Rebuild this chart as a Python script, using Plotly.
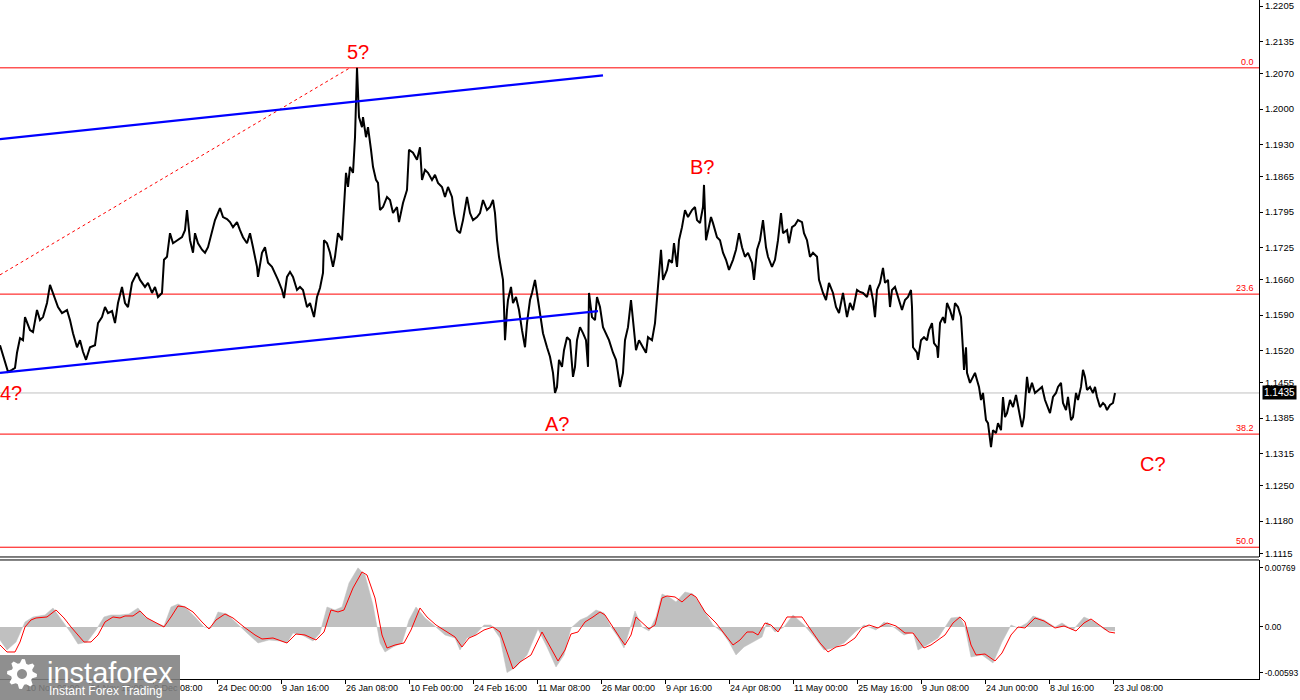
import math
import plotly.graph_objects as go

# time axis is in 4-hour steps (one H4 bar per unit), weekends skipped like MT4
t = [0, 3, 8, 12, 15, 17, 20, 23, 25, 30, 33, 37, 40, 43, 47, 50, 53, 58, 62, 67,
     70, 73, 77, 80, 83, 86, 90, 95, 98, 102, 105, 108, 112, 115, 118, 122, 125, 128, 132, 137,
     140, 145, 148, 152, 155, 158, 162, 164, 167, 170, 173, 177, 182, 185, 187, 190, 193, 195, 198, 202,
     205, 208, 212, 215, 220, 223, 227, 230, 233, 237, 240, 243, 247, 250, 253, 257, 258, 262, 265, 268,
     272, 275, 278, 282, 284, 287, 290, 293, 297, 300, 303, 307, 310, 314, 317, 320, 323, 324, 327, 330,
     333, 335, 338, 342, 344, 346, 348, 350, 353, 355, 357, 358, 359, 362, 363, 366, 368, 371, 373, 376,
     378, 380, 383, 387, 390, 393, 397, 399, 403, 407, 409, 413, 417, 420, 422, 425, 428, 432, 435, 438,
     442, 445, 448, 452, 454, 457, 460, 463, 467, 470, 473, 477, 480, 483, 487, 490, 493, 495, 497, 499,
     501, 503, 504, 505, 507, 508, 511, 513, 516, 519, 522, 525, 527, 530, 532, 535, 538, 541, 543, 547,
     550, 553, 555, 557, 559, 562, 564, 567, 570, 573, 575, 577, 580, 583, 586, 588, 589, 592, 595, 597,
     600, 603, 606, 609, 613, 616, 618, 620, 623, 625, 628, 631, 633, 636, 639, 643, 646, 648, 652, 655,
     657, 659, 661, 663, 667, 669, 672, 674, 677, 679, 682, 685, 688, 692, 695, 697, 700, 703, 704, 706,
     708, 711, 713, 717, 720, 723, 726, 729, 733, 736, 739, 742, 745, 748, 752, 754, 757, 760, 763, 766,
     768, 772, 775, 778, 781, 783, 787, 789, 792, 795, 798, 802, 804, 807, 810, 813, 817, 819, 823, 826,
     829, 833, 836, 839, 843, 847, 850, 853, 857, 860, 863, 867, 870, 873, 875, 877, 880, 883, 885, 888,
     890, 892, 895, 898, 902, 905, 908, 911, 912, 913, 917, 918, 921, 924, 927, 929, 932, 934, 937, 938,
     940, 943, 945, 947, 950, 953, 955, 958, 961, 963, 964, 966, 967, 970, 973, 975, 977, 979, 981, 983,
     986, 988, 991, 993, 996, 998, 1001, 1003, 1005, 1007, 1010, 1013, 1016, 1018, 1022, 1024, 1027, 1029, 1032, 1035,
     1038, 1042, 1045, 1048, 1050, 1053, 1056, 1058, 1061, 1063, 1066, 1068, 1071, 1073, 1076, 1078, 1081, 1083, 1085, 1087,
     1090, 1093, 1095, 1097, 1100, 1103, 1105, 1107, 1110, 1113, 1115]

price = [1.1530, 1.1511, 1.1477, 1.1481, 1.1485, 1.1515, 1.1544, 1.1540, 1.1586, 1.1560, 1.1556, 1.1600, 1.1580, 1.1586, 1.1614, 1.1650, 1.1634, 1.1606, 1.1594, 1.1600,
         1.1580, 1.1554, 1.1526, 1.1540, 1.1517, 1.1501, 1.1526, 1.1530, 1.1574, 1.1586, 1.1606, 1.1594, 1.1598, 1.1574, 1.1614, 1.1646, 1.1614, 1.1606, 1.1654, 1.1674,
         1.1660, 1.1646, 1.1654, 1.1634, 1.1646, 1.1626, 1.1634, 1.1700, 1.1706, 1.1753, 1.1733, 1.1739, 1.1745, 1.1759, 1.1799, 1.1739, 1.1714, 1.1753, 1.1733, 1.1720,
         1.1714, 1.1725, 1.1759, 1.1779, 1.1803, 1.1785, 1.1781, 1.1775, 1.1765, 1.1775, 1.1759, 1.1745, 1.1733, 1.1753, 1.1725, 1.1686, 1.1666, 1.1714, 1.1725, 1.1694,
         1.1686, 1.1674, 1.1660, 1.1640, 1.1624, 1.1666, 1.1676, 1.1666, 1.1640, 1.1646, 1.1640, 1.1606, 1.1614, 1.1586, 1.1626, 1.1644, 1.1674, 1.1739, 1.1733, 1.1714,
         1.1686, 1.1706, 1.1753, 1.1739, 1.1799, 1.1873, 1.1845, 1.1885, 1.1873, 1.1944, 1.2082, 1.2032, 1.1984, 1.1964, 1.1984, 1.1944, 1.1964, 1.1919, 1.1885, 1.1859,
         1.1853, 1.1799, 1.1805, 1.1825, 1.1819, 1.1793, 1.1805, 1.1775, 1.1813, 1.1839, 1.1919, 1.1913, 1.1899, 1.1924, 1.1859, 1.1879, 1.1873, 1.1859, 1.1869, 1.1853,
         1.1845, 1.1825, 1.1845, 1.1825, 1.1793, 1.1759, 1.1753, 1.1779, 1.1825, 1.1793, 1.1779, 1.1785, 1.1793, 1.1819, 1.1799, 1.1805, 1.1819, 1.1793, 1.1739, 1.1706,
         1.1686, 1.1660, 1.1606, 1.1540, 1.1600, 1.1620, 1.1646, 1.1614, 1.1626, 1.1600, 1.1560, 1.1526, 1.1574, 1.1620, 1.1634, 1.1660, 1.1620, 1.1574, 1.1554, 1.1526,
         1.1507, 1.1475, 1.1435, 1.1447, 1.1501, 1.1487, 1.1520, 1.1546, 1.1540, 1.1467, 1.1487, 1.1540, 1.1566, 1.1554, 1.1540, 1.1487, 1.1634, 1.1586, 1.1580, 1.1626,
         1.1606, 1.1566, 1.1554, 1.1540, 1.1515, 1.1501, 1.1475, 1.1447, 1.1475, 1.1540, 1.1566, 1.1620, 1.1580, 1.1520, 1.1540, 1.1526, 1.1515, 1.1546, 1.1540, 1.1574,
         1.1626, 1.1686, 1.1720, 1.1660, 1.1680, 1.1700, 1.1694, 1.1733, 1.1686, 1.1739, 1.1765, 1.1799, 1.1785, 1.1799, 1.1805, 1.1779, 1.1773, 1.1805, 1.1849, 1.1739,
         1.1759, 1.1785, 1.1773, 1.1745, 1.1739, 1.1714, 1.1700, 1.1680, 1.1700, 1.1720, 1.1753, 1.1725, 1.1706, 1.1714, 1.1694, 1.1660, 1.1720, 1.1739, 1.1779, 1.1725,
         1.1706, 1.1686, 1.1700, 1.1739, 1.1793, 1.1753, 1.1759, 1.1733, 1.1765, 1.1769, 1.1779, 1.1775, 1.1753, 1.1739, 1.1706, 1.1714, 1.1706, 1.1660, 1.1634, 1.1620,
         1.1654, 1.1634, 1.1606, 1.1594, 1.1634, 1.1586, 1.1614, 1.1600, 1.1640, 1.1636, 1.1634, 1.1626, 1.1650, 1.1620, 1.1586, 1.1640, 1.1654, 1.1684, 1.1654, 1.1660,
         1.1606, 1.1640, 1.1646, 1.1626, 1.1600, 1.1620, 1.1626, 1.1640, 1.1606, 1.1526, 1.1515, 1.1501, 1.1540, 1.1546, 1.1540, 1.1560, 1.1574, 1.1534, 1.1526, 1.1505,
         1.1574, 1.1586, 1.1574, 1.1614, 1.1600, 1.1580, 1.1614, 1.1606, 1.1586, 1.1520, 1.1481, 1.1526, 1.1475, 1.1455, 1.1467, 1.1475, 1.1461, 1.1447, 1.1421, 1.1435,
         1.1381, 1.1375, 1.1327, 1.1361, 1.1355, 1.1375, 1.1361, 1.1427, 1.1387, 1.1395, 1.1421, 1.1407, 1.1431, 1.1407, 1.1367, 1.1387, 1.1467, 1.1435, 1.1455, 1.1435,
         1.1441, 1.1447, 1.1421, 1.1407, 1.1395, 1.1427, 1.1435, 1.1447, 1.1455, 1.1415, 1.1401, 1.1427, 1.1381, 1.1387, 1.1435, 1.1421, 1.1447, 1.1481, 1.1467, 1.1441,
         1.1447, 1.1435, 1.1447, 1.1427, 1.1407, 1.1415, 1.1411, 1.1401, 1.1411, 1.1415, 1.1435]

# MACD: main (histogram) and signal line
macd_t = [0, 7, 16, 25, 33, 45, 53, 62, 71, 78, 87, 96, 104, 111, 120, 129, 138, 145, 156, 164,
          171, 178, 185, 195, 204, 211, 218, 227, 236, 247, 258, 269, 280, 287, 293, 302, 313, 320, 327, 335,
          342, 349, 358, 365, 373, 380, 385, 393, 402, 409, 416, 425, 436, 445, 455, 460, 467, 475, 484, 491,
          500, 507, 516, 527, 538, 547, 556, 564, 571, 580, 587, 596, 604, 611, 618, 624, 631, 635, 642, 649,
          656, 662, 669, 676, 685, 693, 702, 713, 722, 729, 736, 744, 753, 762, 767, 775, 784, 793, 804, 815,
          824, 833, 844, 855, 864, 876, 884, 895, 904, 913, 918, 927, 938, 945, 951, 960, 965, 971, 982, 993,
          1002, 1011, 1018, 1027, 1033, 1044, 1055, 1062, 1073, 1084, 1095, 1105, 1115]
macd_main = [-0.00169, -0.00299, -0.00195, 0.00065, 0.00130, 0.00156, 0.00247, 0.00091, -0.00078, -0.00221,
             -0.00195, -0.00039, 0.00130, 0.00156, 0.00156, 0.00169, 0.00247, 0.00130, 0.00052, 0.00013,
             0.00260, 0.00299, 0.00260, 0.00130, 0.00000, -0.00013, 0.00195, 0.00169, 0.00052, -0.00078,
             -0.00208, -0.00169, -0.00182, -0.00208, -0.00078, -0.00104, -0.00182, -0.00078, 0.00260, 0.00221,
             0.00260, 0.00572, 0.00769, 0.00676, 0.00286, -0.00208, -0.00325, -0.00260, -0.00208, 0.00091,
             0.00260, 0.00117, 0.00000, -0.00104, -0.00143, -0.00299, -0.00143, -0.00104, 0.00026, 0.00026,
             -0.00143, -0.00593, -0.00520, -0.00364, -0.00026, -0.00260, -0.00520, -0.00364, -0.00013, 0.00091,
             0.00130, 0.00221, 0.00182, 0.00000, -0.00130, -0.00273, 0.00026, 0.00208, 0.00000, -0.00052,
             0.00130, 0.00429, 0.00390, 0.00325, 0.00455, 0.00429, 0.00260, 0.00026, -0.00065, -0.00195,
             -0.00364, -0.00260, -0.00195, -0.00130, 0.00065, -0.00065, 0.00000, 0.00156, 0.00026, -0.00143,
             -0.00299, -0.00273, -0.00208, -0.00065, 0.00026, -0.00039, 0.00065, -0.00013, -0.00104, -0.00065,
             -0.00299, -0.00234, -0.00143, 0.00000, 0.00117, 0.00130, 0.00000, -0.00390, -0.00364, -0.00468,
             -0.00195, 0.00026, -0.00013, 0.00052, 0.00143, 0.00091, 0.00000, 0.00052, -0.00039, 0.00130,
             0.00065, -0.00039, -0.00052]

sig_t = [0, 7, 15, 20, 25, 31, 36, 47, 56, 64, 71, 76, 84, 91, 98, 105, 113, 120, 125, 133,
         140, 147, 156, 164, 171, 178, 185, 193, 202, 209, 216, 225, 233, 244, 255, 262, 273, 287, 296, 305,
         316, 324, 331, 338, 344, 353, 362, 367, 375, 382, 387, 395, 404, 411, 420, 427, 436, 447, 455, 462,
         469, 476, 484, 493, 500, 507, 513, 520, 531, 542, 549, 558, 565, 571, 578, 585, 593, 600, 605, 613,
         620, 625, 631, 636, 642, 649, 655, 662, 667, 675, 682, 691, 696, 705, 716, 725, 733, 740, 747, 753,
         758, 765, 771, 778, 787, 795, 802, 811, 820, 828, 836, 845, 855, 862, 869, 878, 887, 896, 905, 913,
         924, 931, 940, 945, 953, 960, 965, 971, 976, 985, 995, 1002, 1011, 1018, 1025, 1035, 1044, 1055, 1064, 1069,
         1076, 1084, 1091, 1102, 1109, 1115]
macd_signal = [-0.00234, -0.00325, -0.00325, -0.00195, 0.00000, 0.00091, 0.00117, 0.00130, 0.00221, 0.00117,
               0.00000, -0.00078, -0.00195, -0.00195, -0.00104, 0.00065, 0.00130, 0.00117, 0.00143, 0.00143,
               0.00208, 0.00117, 0.00052, 0.00000, 0.00130, 0.00273, 0.00260, 0.00195, 0.00065, -0.00026,
               0.00091, 0.00169, 0.00117, 0.00000, -0.00104, -0.00156, -0.00143, -0.00208, -0.00091, -0.00104,
               -0.00169, -0.00065, 0.00221, 0.00195, 0.00221, 0.00507, 0.00715, 0.00676, 0.00377, -0.00104,
               -0.00273, -0.00234, -0.00208, -0.00039, 0.00247, 0.00130, 0.00026, -0.00065, -0.00130, -0.00260,
               -0.00143, -0.00104, -0.00039, 0.00000, -0.00065, -0.00325, -0.00546, -0.00455, -0.00364, -0.00065,
               -0.00234, -0.00442, -0.00299, -0.00091, -0.00065, 0.00065, 0.00130, 0.00195, 0.00156, -0.00013,
               -0.00143, -0.00234, -0.00104, 0.00130, 0.00052, -0.00026, 0.00026, 0.00377, 0.00403, 0.00390,
               0.00325, 0.00429, 0.00390, 0.00195, 0.00052, -0.00104, -0.00234, -0.00169, -0.00065, -0.00065,
               -0.00104, 0.00052, 0.00026, -0.00065, 0.00130, 0.00130, 0.00130, -0.00039, -0.00208, -0.00325,
               -0.00260, -0.00234, -0.00143, -0.00013, 0.00026, -0.00013, 0.00052, 0.00013, -0.00078, -0.00078,
               -0.00273, -0.00234, -0.00143, -0.00104, 0.00052, 0.00130, 0.00065, -0.00234, -0.00364, -0.00351,
               -0.00442, -0.00338, -0.00104, 0.00000, -0.00013, 0.00117, 0.00078, -0.00013, 0.00013, -0.00013,
               -0.00052, 0.00052, 0.00104, 0.00000, -0.00065, -0.00078]

# fibonacci grid drawn from the 5? top
fib_high = 1.2082
fib_low = 1.0174
fib_levels = [0.0, 23.6, 38.2, 50.0]
last_price = 1.1435

# channel lines and the dotted trend line (time, price)
chan_upper_t = [0, 603]
chan_upper_p = [1.1940, 1.2067]
chan_lower_t = [0, 598]
chan_lower_p = [1.1475, 1.1598]
trend_t = [0, 350]
trend_p = [1.1670, 1.2082]

wave_text = ["4?", "5?", "A?", "B?", "C?"]
wave_t = [11, 358, 557, 702, 1153]
wave_p = [1.1435, 1.2114, 1.1373, 1.1885, 1.1294]

price_ticks = [1.2205, 1.2135, 1.2070, 1.2000, 1.1930, 1.1865, 1.1795, 1.1725, 1.1660,
               1.1590, 1.1520, 1.1455, 1.1385, 1.1315, 1.1250, 1.1180, 1.1115]
macd_ticks = [0.00769, 0.0, -0.00593]
macd_tick_text = ["0.00769", "0.00", "-0.00593"]

date_labels = ["26 Oct 08:00", "10 Nov 00:00", "24 Nov 16:00", "9 Dec 08:00", "24 Dec 00:00",
               "9 Jan 16:00", "26 Jan 08:00", "10 Feb 00:00", "24 Feb 16:00", "11 Mar 08:00",
               "26 Mar 00:00", "9 Apr 16:00", "24 Apr 08:00", "11 May 00:00", "25 May 16:00",
               "9 Jun 08:00", "24 Jun 00:00", "8 Jul 16:00", "23 Jul 08:00"]
first_label_t = -39
label_step = 64

FONT = "Liberation Sans"
W, H = 1300, 700
ML, MR, MT, MB = 0, 41, 0, 21
PW, PH = W - ML - MR, H - MT - MB
main_bottom = 0.1797
osc_top = 0.1753


def px(x, y):
    # page pixel -> paper coords (used for the watermark only)
    return (x - ML) / PW, (H - MB - y) / PH


def gear_path(cx, cy, r_out, r_in, r_hole, teeth=8):
    pts = []
    n = teeth * 4
    for i in range(n):
        a = 2 * math.pi * i / n
        r = r_out if (i % 4) in (0, 1) else r_in
        pts.append(px(cx + r * math.cos(a), cy + r * math.sin(a)))
    d = "M " + " L ".join("%.5f,%.5f" % p for p in pts) + " Z"
    hole = []
    for i in range(24):
        a = 2 * math.pi * i / 24
        hole.append(px(cx + r_hole * math.cos(a), cy + r_hole * math.sin(a)))
    d += " M " + " L ".join("%.5f,%.5f" % p for p in hole) + " Z"
    return d


fig = go.Figure()

fig.add_trace(go.Scatter(x=t, y=price, mode="lines", line=dict(color="black", width=2),
                         xaxis="x", yaxis="y", hoverinfo="skip"))
fig.add_trace(go.Scatter(x=trend_t, y=trend_p, mode="lines",
                         line=dict(color="red", width=1, dash="dot"), xaxis="x", yaxis="y"))
fig.add_trace(go.Scatter(x=chan_upper_t, y=chan_upper_p, mode="lines",
                         line=dict(color="#0000ff", width=2.2), xaxis="x", yaxis="y"))
fig.add_trace(go.Scatter(x=chan_lower_t, y=chan_lower_p, mode="lines",
                         line=dict(color="#0000ff", width=2.2), xaxis="x", yaxis="y"))

fig.add_trace(go.Scatter(x=macd_t, y=macd_main, mode="lines", fill="tozeroy",
                         fillcolor="#c0c0c0", line=dict(color="#c0c0c0", width=0.5),
                         xaxis="x", yaxis="y2"))
fig.add_trace(go.Scatter(x=sig_t, y=macd_signal, mode="lines", line=dict(color="red", width=1),
                         xaxis="x", yaxis="y2"))

shapes = []
annotations = []
for lv in fib_levels:
    y = fib_high - (fib_high - fib_low) * lv / 100.0
    shapes.append(dict(type="line", xref="paper", yref="y", x0=0, x1=1, y0=y, y1=y,
                       line=dict(color="red", width=1), layer="below"))
    annotations.append(dict(xref="paper", yref="y", x=0.998, y=y, text="%.1f" % lv,
                            xanchor="right", yanchor="bottom", showarrow=False, yshift=-1,
                            font=dict(family=FONT, size=9, color="red")))

shapes.append(dict(type="line", xref="paper", yref="y", x0=0, x1=1, y0=last_price, y1=last_price,
                   line=dict(color="#c0c0c0", width=1), layer="below"))
# panel separators
for yy in [main_bottom, osc_top]:
    shapes.append(dict(type="line", xref="paper", yref="paper", x0=0, x1=1, y0=yy, y1=yy,
                       line=dict(color="black", width=1)))

annotations.append(dict(xref="paper", yref="y", x=1, y=last_price, text="1.1435", xanchor="left",
                        xshift=3, showarrow=False, bgcolor="black", borderpad=1,
                        font=dict(family=FONT, size=10, color="white")))

for txt, wt, wp in zip(wave_text, wave_t, wave_p):
    annotations.append(dict(x=wt, y=wp, xref="x", yref="y", text=txt, showarrow=False,
                            font=dict(family=FONT, size=20, color="red")))

# instaforex watermark
x0, y0 = px(0, 700)
x1, y1 = px(180, 655)
shapes.append(dict(type="rect", xref="paper", yref="paper", x0=x0, x1=x1, y0=y0, y1=y1,
                   fillcolor="rgba(128,128,128,0.88)", line=dict(width=0), layer="above"))
shapes.append(dict(type="path", xref="paper", yref="paper", path=gear_path(22, 674, 15, 11, 5),
                   fillcolor="white", line=dict(width=0), layer="above", fillrule="evenodd"))
ax, ay = px(45, 673)
annotations.append(dict(xref="paper", yref="paper", x=ax, y=ay, text="instaforex",
                        xanchor="left", yanchor="middle", showarrow=False,
                        font=dict(family=FONT, size=29, color="white")))
ax, ay = px(47, 691)
annotations.append(dict(xref="paper", yref="paper", x=ax, y=ay, text="Instant Forex Trading",
                        xanchor="left", yanchor="middle", showarrow=False,
                        font=dict(family=FONT, size=12, color="white")))

tickvals = [first_label_t + label_step * i for i in range(len(date_labels))]

fig.update_layout(
    width=W, height=H,
    margin=dict(l=ML, r=MR, t=MT, b=MB, autoexpand=False),
    paper_bgcolor="white", plot_bgcolor="white",
    showlegend=False,
    shapes=shapes,
    annotations=annotations,
    xaxis=dict(range=[0, PW], anchor="y2", showgrid=False, zeroline=False,
               showline=True, linecolor="black", linewidth=1, automargin=False,
               ticks="outside", ticklen=4, tickcolor="black", tickangle=0,
               tickvals=tickvals, ticktext=date_labels, ticklabelposition="outside right",
               tickfont=dict(family=FONT, size=9, color="black")),
    yaxis=dict(domain=[main_bottom, 1], range=[1.11086, 1.2217], side="right",
               showgrid=False, zeroline=False, showline=True, linecolor="black", automargin=False,
               ticks="outside", ticklen=3, tickcolor="black",
               tickvals=price_ticks, ticktext=["%.4f" % v for v in price_ticks],
               tickfont=dict(family=FONT, size=9.5, color="black")),
    yaxis2=dict(domain=[0, osc_top], range=[-0.00676, 0.00871], side="right", anchor="x",
                showgrid=False, zeroline=False, showline=True, linecolor="black", automargin=False,
                ticks="outside", ticklen=3, tickcolor="black",
                tickvals=macd_ticks, ticktext=macd_tick_text,
                tickfont=dict(family=FONT, size=8.5, color="black")),
)

fig.write_html("out.html", config={"displayModeBar": False},
               post_script="document.body.style.margin='0px';")
